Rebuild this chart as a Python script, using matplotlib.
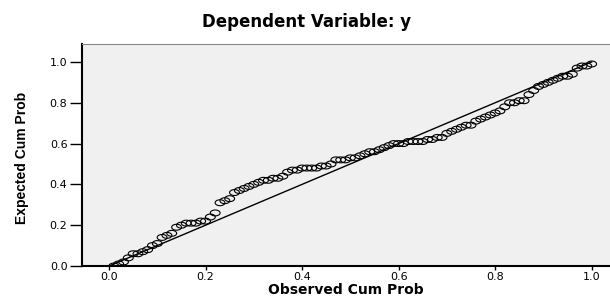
import numpy as np
import matplotlib
matplotlib.use("Agg")
import matplotlib.pyplot as plt
from matplotlib.path import Path

# observed vs expected cumulative probabilities
obs_cum = [0.01, 0.02, 0.03, 0.04, 0.05, 0.06, 0.07, 0.08, 0.09, 0.10,
           0.11, 0.12, 0.13, 0.14, 0.15, 0.16, 0.17, 0.18, 0.19, 0.20,
           0.21, 0.22, 0.23, 0.24, 0.25, 0.26, 0.27, 0.28, 0.29, 0.30,
           0.31, 0.32, 0.33, 0.34, 0.35, 0.36, 0.37, 0.38, 0.39, 0.40,
           0.41, 0.42, 0.43, 0.44, 0.45, 0.46, 0.47, 0.48, 0.49, 0.50,
           0.51, 0.52, 0.53, 0.54, 0.55, 0.56, 0.57, 0.58, 0.59, 0.60,
           0.61, 0.62, 0.63, 0.64, 0.65, 0.66, 0.67, 0.68, 0.69, 0.70,
           0.71, 0.72, 0.73, 0.74, 0.75, 0.76, 0.77, 0.78, 0.79, 0.80,
           0.81, 0.82, 0.83, 0.84, 0.85, 0.86, 0.87, 0.88, 0.89, 0.90,
           0.91, 0.92, 0.93, 0.94, 0.95, 0.96, 0.97, 0.98, 0.99, 1.00]
exp_cum = [0.00, 0.01, 0.02, 0.04, 0.06, 0.06, 0.07, 0.08, 0.10, 0.11,
           0.14, 0.15, 0.16, 0.19, 0.20, 0.21, 0.21, 0.21, 0.22, 0.22,
           0.24, 0.26, 0.31, 0.32, 0.33, 0.36, 0.37, 0.38, 0.39, 0.40,
           0.41, 0.42, 0.42, 0.43, 0.43, 0.44, 0.46, 0.47, 0.47, 0.48,
           0.48, 0.48, 0.48, 0.49, 0.49, 0.50, 0.52, 0.52, 0.52, 0.53,
           0.53, 0.54, 0.55, 0.56, 0.56, 0.57, 0.58, 0.59, 0.60, 0.60,
           0.60, 0.61, 0.61, 0.61, 0.61, 0.62, 0.62, 0.63, 0.63, 0.65,
           0.66, 0.67, 0.68, 0.69, 0.69, 0.71, 0.72, 0.73, 0.74, 0.75,
           0.76, 0.78, 0.80, 0.80, 0.81, 0.81, 0.84, 0.86, 0.88, 0.89,
           0.90, 0.91, 0.92, 0.93, 0.93, 0.94, 0.97, 0.98, 0.98, 0.99]
ref_line = [0.0, 1.0]
ticks = [0.0, 0.2, 0.4, 0.6, 0.8, 1.0]
tick_labels = ["0.0", "0.2", "0.4", "0.6", "0.8", "1.0"]

# wide open ellipse marker like the SPSS output
t = np.linspace(0, 2 * np.pi, 41)
ellipse = Path(np.column_stack([np.cos(t), 0.6 * np.sin(t)]), closed=True)

fig = plt.figure(figsize=(6.1, 2.98), dpi=100)
ax = fig.add_axes([0.1344, 0.1074, 0.8656, 0.745])
ax.set_facecolor("#f0f0f0")

ax.plot(ref_line, ref_line, color="black", lw=1.0, zorder=2)
ax.scatter(obs_cum, exp_cum, marker=ellipse, s=50, facecolors="none",
           edgecolors="black", linewidths=0.8, zorder=3)

ax.set_xlim(-0.056, 1.038)
ax.set_ylim(0.0, 1.088)
ax.set_xticks(ticks)
ax.set_xticklabels(tick_labels)
ax.set_yticks(ticks)
ax.set_yticklabels(tick_labels)
ax.tick_params(axis="y", length=8.5, width=1.0, pad=2, labelsize=8)
ax.tick_params(axis="x", length=3, width=1.0, pad=1, labelsize=8)

ax.spines["left"].set_linewidth(1.5)
ax.spines["bottom"].set_linewidth(1.5)
ax.spines["top"].set_color("#888888")
ax.spines["top"].set_linewidth(0.8)
ax.spines["right"].set_visible(False)

fig.text(0.567, 0.004, "Observed Cum Prob", ha="center", va="bottom",
         fontsize=10, fontweight="bold")
fig.text(0.036, 0.47, "Expected Cum Prob", rotation=90, ha="center", va="center",
         fontsize=10, fontweight="bold",
         family=["Liberation Sans Narrow", "Liberation Sans", "DejaVu Sans"])
fig.text(0.502, 0.925, "Dependent Variable: y", ha="center", va="center",
         fontsize=12, fontweight="bold")

fig.savefig("out.png", dpi=100)
